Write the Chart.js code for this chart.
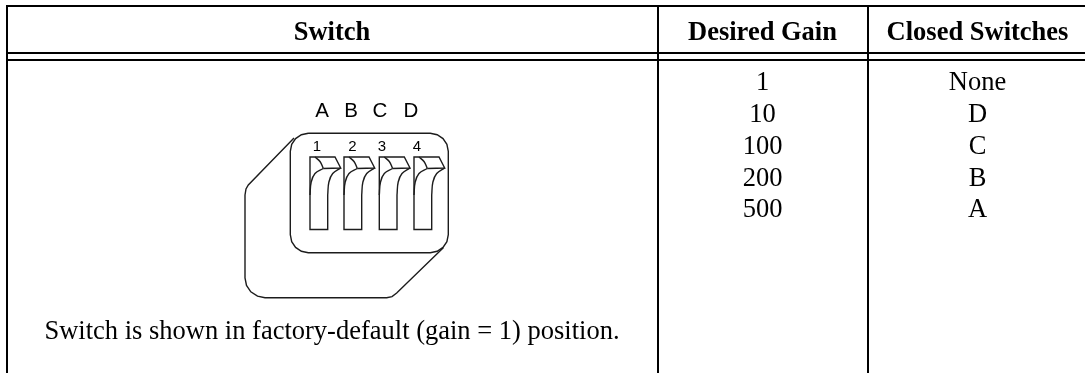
<!DOCTYPE html>
<html>
<head>
<meta charset="utf-8">
<title>Gain switch table</title>
<script src="https://cdn.jsdelivr.net/npm/chart.js@4/dist/chart.umd.min.js"></script>
<style>
  html, body { margin: 0; padding: 0; background: #fff; }
  canvas { display: block; }
</style>
</head>
<body>
<canvas id="chart" width="1085" height="373"></canvas>
<script>
// ── Data ───────────────────────────────────────────────────────────────────

const headers = ['Switch', 'Desired Gain', 'Closed Switches'];
const gains = ['1', '10', '100', '200', '500'];
const closedSwitches = ['None', 'D', 'C', 'B', 'A'];
const switchLetters = ['A', 'B', 'C', 'D'];
const switchNumbers = ['1', '2', '3', '4'];
const caption = 'Switch is shown in factory-default (gain = 1) position.';

// table rules
const ruleRows = [6, 53, 60];
const ruleCols = [7, 658, 868];
const tableRight = 1085;
const tableBottom = 373;

// switch body outline
const bodyOutline = [
  [308.3, 133.3], [430.3, 133.3], [437.2, 134.7], [443, 138.6], [446.9, 144.4], [448.3, 151.3],
  [448.3, 234.7], [446.9, 241.6], [443, 247.4], [437.2, 251.3], [430.3, 252.7],
  [308.3, 252.7], [301.4, 251.3], [295.6, 247.4], [291.7, 241.6], [290.3, 234.7],
  [290.3, 151.3], [291.7, 144.4], [295.6, 138.6], [301.4, 134.7], [308.3, 133.3]
];
const baseOutline = [
  [294, 138], [248.3, 185], [246, 189], [245, 195], [245, 278], [246.5, 285.5], [250.8, 291.8],
  [257.5, 296.2], [265, 297.7], [386.7, 297.7], [392, 296.6], [396.7, 293], [443.3, 247.7]
];

// one toggle, relative to its left edge
const toggleLefts = [310, 344, 379.3, 414];
const toggleBox = [[17.7, 38], [17.7, 72.5], [0, 72.5], [0, 0], [25, 0], [30.7, 11], [13.3, 11.5]];
const toggleLeftCurve = [[0, 38], [1.2, 25], [5, 16.5], [13.3, 11.5]];
const toggleRightCurve = [[17.7, 38], [18.9, 25], [22.7, 16.5], [30.7, 11]];
const toggleFold = [[5, 0], [10, 4.5], [13.3, 11.5]];

// ── Positions ──────────────────────────────────────────────────────────────

const colCenters = [332, 762.5, 977.5];
const headerY = 40;
const rowYs = [90, 122, 154, 186, 217];
const letterXs = [322, 351, 380, 411];
const letterY = 116.5;
const numberXs = [317, 352.5, 382, 417];
const numberY = 150.7;
const captionX = 332;
const captionY = 339;

const SERIF = '"Liberation Serif", serif';
const SANS = '"Liberation Sans", sans-serif';

// ── Datasets ───────────────────────────────────────────────────────────────

const toPoints = (pts) => pts.map(([x, y]) => ({ x, y }));
const offsetY = 157;
const togglePoints = (pts, left) => pts.map(([x, y]) => ({ x: x + left, y: y + offsetY }));

const rule = (points) => ({ data: points, borderColor: '#000', borderWidth: 2, pointRadius: 0, showLine: true, tension: 0 });
const stroke = (points, tension = 0) => ({ data: points, borderColor: '#1c1c1c', borderWidth: 1.4, pointRadius: 0, showLine: true, tension });

const datasets = [
  ...ruleRows.map(y => rule([{ x: ruleCols[0] - 1, y }, { x: tableRight, y }])),
  ...ruleCols.map(x => rule([{ x, y: ruleRows[0] }, { x, y: tableBottom }])),
  stroke(toPoints(bodyOutline)),
  stroke(toPoints(baseOutline)),
  ...toggleLefts.flatMap(left => [
    stroke(togglePoints(toggleBox, left)),
    stroke(togglePoints(toggleLeftCurve, left), 0.4),
    stroke(togglePoints(toggleRightCurve, left), 0.4),
    stroke(togglePoints(toggleFold, left), 0.4)
  ])
];

// ── Text plugin ────────────────────────────────────────────────────────────

const tableText = {
  id: 'tableText',
  afterDatasetsDraw(chart) {
    const { ctx, scales: { x, y } } = chart;
    const put = (text, vx, vy, font) => {
      ctx.font = font;
      ctx.fillText(text, x.getPixelForValue(vx), y.getPixelForValue(vy));
    };
    ctx.save();
    ctx.fillStyle = '#000';
    ctx.textAlign = 'center';
    ctx.textBaseline = 'alphabetic';
    headers.forEach((h, i) => put(h, colCenters[i], headerY, `bold 26.5px ${SERIF}`));
    gains.forEach((g, i) => put(g, colCenters[1], rowYs[i], `26.5px ${SERIF}`));
    closedSwitches.forEach((c, i) => put(c, colCenters[2], rowYs[i], `26.5px ${SERIF}`));
    switchLetters.forEach((l, i) => put(l, letterXs[i], letterY, `20.5px ${SANS}`));
    switchNumbers.forEach((n, i) => put(n, numberXs[i], numberY, `15px ${SANS}`));
    put(caption, captionX, captionY, `26.5px ${SERIF}`);
    ctx.restore();
  }
};

// ── Chart ──────────────────────────────────────────────────────────────────

new Chart(document.getElementById('chart'), {
  type: 'scatter',
  data: { datasets },
  plugins: [tableText],
  options: {
    responsive: false,
    animation: false,
    layout: { padding: 0 },
    plugins: { legend: { display: false }, tooltip: { enabled: false } },
    scales: {
      x: { type: 'linear', min: 0, max: 1085, display: false },
      y: { type: 'linear', min: 0, max: 373, reverse: true, display: false }
    }
  }
});
</script>
</body>
</html>
